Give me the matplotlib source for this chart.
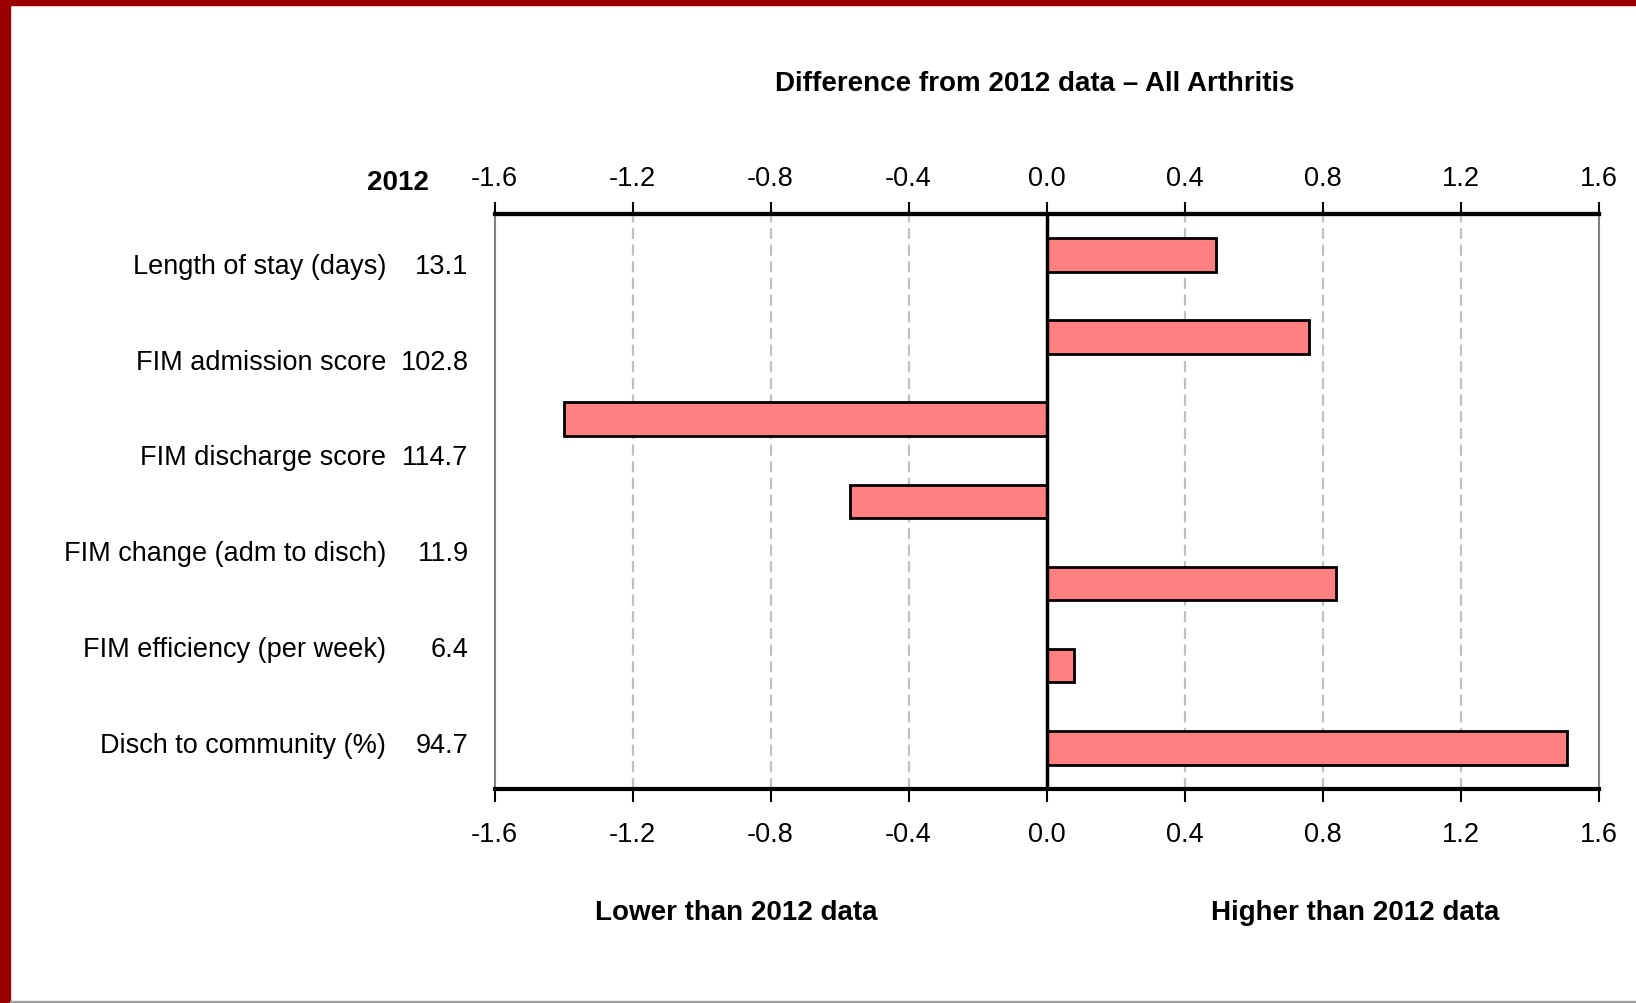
import numpy as np
import matplotlib
matplotlib.use("Agg")
import matplotlib.pyplot as plt
from matplotlib.patches import Rectangle

plt.rcParams['font.family'] = ['Liberation Sans Narrow', 'Liberation Sans', 'DejaVu Sans']

# labels shown at the left (6) and bar values (7) as they appear in the picture
names = ['Length of stay (days)', 'FIM admission score', 'FIM discharge score',
         'FIM change (adm to disch)', 'FIM efficiency (per week)', 'Disch to community (%)']
values_2012 = ['13.1', '102.8', '114.7', '11.9', '6.4', '94.7']
diffs = [0.49, 0.76, -1.40, -0.57, 0.84, 0.08, 1.51]
ticks = [-1.6, -1.2, -0.8, -0.4, 0.0, 0.4, 0.8, 1.2, 1.6]
tick_labels = [f'{t:.1f}' for t in ticks]

fig = plt.figure(figsize=(16.36, 10.04), dpi=100)
ax = fig.add_axes([0.3023, 0.2133, 0.6748, 0.5727])

y = np.arange(len(diffs))
ax.barh(y, diffs, height=0.41, color='#FF8080', edgecolor='black', linewidth=2, zorder=3)
ax.set_ylim(len(diffs) - 0.5, -0.5)
ax.set_xlim(-1.6, 1.6)
ax.set_yticks([])

ax.set_xticks(ticks)
ax.set_xticklabels(tick_labels)
ax.tick_params(axis='x', direction='out', length=9, width=1.5, labelsize=19.5, pad=14)

# top axis with its own padding
top = ax.secondary_xaxis('top')
top.set_xticks(ticks)
top.set_xticklabels(tick_labels)
top.tick_params(axis='x', direction='out', length=9, width=1.5, labelsize=19.5, pad=7.5)
top.spines['top'].set_linewidth(3)

for t in ticks[1:-1]:
    if t != 0:
        ax.axvline(t, color='#C0C0C0', linestyle=(0, (5, 2.5)), linewidth=1.6, zorder=1)
ax.axvline(0, color='black', linewidth=2.5, zorder=4)

ax.spines['top'].set_linewidth(3)
ax.spines['bottom'].set_linewidth(3)
ax.spines['left'].set_color('#808080')
ax.spines['right'].set_color('#808080')
ax.spines['left'].set_linewidth(1.5)
ax.spines['right'].set_linewidth(1.5)

n = len(names)
for i, (nm, v) in enumerate(zip(names, values_2012)):
    yy = 1 - (i + 0.5) / n - 0.007
    ax.text(-0.098, yy, nm, transform=ax.transAxes, ha='right', va='center', fontsize=19.5)
    ax.text(-0.0236, yy, v, transform=ax.transAxes, ha='right', va='center', fontsize=19.5)
ax.text(-0.0596, 1.056, '2012', transform=ax.transAxes, ha='right', va='center',
        fontsize=20, fontweight='bold')

fig.text(0.6327, 0.916, 'Difference from 2012 data \u2013 All Arthritis', ha='center', va='center',
         fontsize=20, fontweight='bold')
fig.text(0.4503, 0.0906, 'Lower than 2012 data', ha='center', va='center', fontsize=20, fontweight='bold')
fig.text(0.8285, 0.0906, 'Higher than 2012 data', ha='center', va='center', fontsize=20, fontweight='bold')

# red frame (left and top) and thin grey bottom line
fig.patches.append(Rectangle((0, 0), 10 / 1636, 1, transform=fig.transFigure, color='#990000', zorder=10))
fig.patches.append(Rectangle((0, 1 - 6 / 1004), 1, 6 / 1004, transform=fig.transFigure, color='#990000', zorder=10))
fig.patches.append(Rectangle((10 / 1636, 0), 1, 2 / 1004, transform=fig.transFigure, color='#A0A0A0', zorder=10))

fig.savefig('out.png', dpi=100)
